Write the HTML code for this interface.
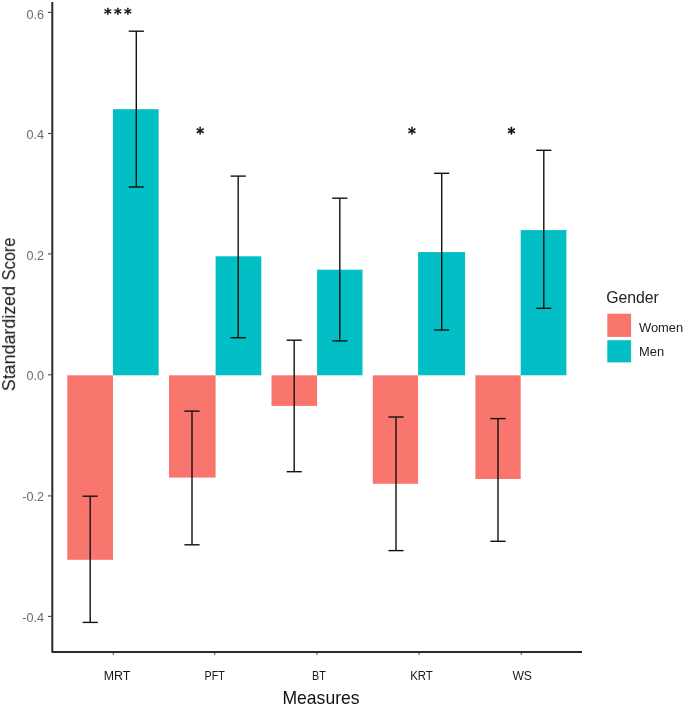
<!DOCTYPE html>
<html lang="en">
<head>
<meta charset="utf-8">
<title>Standardized Score by Measures and Gender</title>
<style>
  html, body { margin: 0; padding: 0; background: #ffffff; }
  body { width: 685px; height: 706px; overflow: hidden; }
  svg { display: block; }
  text { font-family: "Liberation Sans", "DejaVu Sans", sans-serif; }
  .tick { font-size: 12.6px; fill: #6b6b6b; }
  .cat { font-size: 13.4px; fill: #1a1a1a; }
  .title { font-size: 17.8px; fill: #111111; }
  .leg { font-size: 12.9px; fill: #222222; }
  .legt { font-size: 15.8px; fill: #222222; }
  .star text { font-family: "DejaVu Sans", "Liberation Sans", sans-serif; font-weight: bold; font-size: 15px; fill: #111111; stroke: #111111; stroke-width: 0.3px; }
  .w { fill: #F8766D; }
  .m { fill: #00BFC4; }
  .eb line { stroke: #111111; stroke-width: 1.4; }
</style>
</head>
<body>
<svg width="685" height="706" viewBox="0 0 685 706">
  <rect x="0" y="0" width="685" height="706" fill="#ffffff"/>
  <g opacity="0.999">

  <!-- bars -->
  <g id="bars">
    <rect class="w" x="67.3"  y="375.3" width="45.7" height="184.5"/>
    <rect class="m" x="113"   y="109.2" width="45.6" height="266.1"/>
    <rect class="w" x="169"   y="375.3" width="46.6" height="102.3"/>
    <rect class="m" x="215.6" y="256.3" width="45.7" height="119"/>
    <rect class="w" x="271.5" y="375.3" width="45.6" height="30.6"/>
    <rect class="m" x="317.1" y="269.7" width="45.4" height="105.6"/>
    <rect class="w" x="372.8" y="375.3" width="45.3" height="108.5"/>
    <rect class="m" x="418.1" y="252.1" width="47"   height="123.2"/>
    <rect class="w" x="475.4" y="375.3" width="45.3" height="103.7"/>
    <rect class="m" x="520.7" y="230.1" width="45.7" height="145.2"/>
  </g>

  <!-- error bars -->
  <g class="eb" id="errorbars">
    <g><line x1="90.2" y1="496.2" x2="90.2" y2="622.4"/><line x1="82.6" y1="496.2" x2="97.8" y2="496.2"/><line x1="82.6" y1="622.4" x2="97.8" y2="622.4"/></g>
    <g><line x1="136.3" y1="31.2" x2="136.3" y2="187"/><line x1="128.7" y1="31.2" x2="143.9" y2="31.2"/><line x1="128.7" y1="187" x2="143.9" y2="187"/></g>
    <g><line x1="192" y1="411.1" x2="192" y2="544.8"/><line x1="184.4" y1="411.1" x2="199.6" y2="411.1"/><line x1="184.4" y1="544.8" x2="199.6" y2="544.8"/></g>
    <g><line x1="238.2" y1="176.1" x2="238.2" y2="337.7"/><line x1="230.6" y1="176.1" x2="245.8" y2="176.1"/><line x1="230.6" y1="337.7" x2="245.8" y2="337.7"/></g>
    <g><line x1="294.2" y1="340.2" x2="294.2" y2="471.7"/><line x1="286.6" y1="340.2" x2="301.8" y2="340.2"/><line x1="286.6" y1="471.7" x2="301.8" y2="471.7"/></g>
    <g><line x1="339.8" y1="198.2" x2="339.8" y2="340.9"/><line x1="332.2" y1="198.2" x2="347.4" y2="198.2"/><line x1="332.2" y1="340.9" x2="347.4" y2="340.9"/></g>
    <g><line x1="396" y1="417" x2="396" y2="550.6"/><line x1="388.4" y1="417" x2="403.6" y2="417"/><line x1="388.4" y1="550.6" x2="403.6" y2="550.6"/></g>
    <g><line x1="441.7" y1="173.3" x2="441.7" y2="330"/><line x1="434.1" y1="173.3" x2="449.3" y2="173.3"/><line x1="434.1" y1="330" x2="449.3" y2="330"/></g>
    <g><line x1="498" y1="418.6" x2="498" y2="541.3"/><line x1="490.4" y1="418.6" x2="505.6" y2="418.6"/><line x1="490.4" y1="541.3" x2="505.6" y2="541.3"/></g>
    <g><line x1="543.8" y1="150.3" x2="543.8" y2="308.3"/><line x1="536.2" y1="150.3" x2="551.4" y2="150.3"/><line x1="536.2" y1="308.3" x2="551.4" y2="308.3"/></g>
  </g>

  <!-- axes -->
  <g id="axes" stroke="#2b2b2b" fill="none">
    <polyline points="52.3,2 52.3,652 582,652" stroke-width="2" stroke-linejoin="round"/>
    <g stroke-width="1.1" stroke="#444444">
      <line x1="48" y1="12.4" x2="51.5" y2="12.4"/>
      <line x1="48" y1="133.5" x2="51.5" y2="133.5"/>
      <line x1="48" y1="253.9" x2="51.5" y2="253.9"/>
      <line x1="48" y1="374.8" x2="51.5" y2="374.8"/>
      <line x1="48" y1="495.9" x2="51.5" y2="495.9"/>
      <line x1="48" y1="616.4" x2="51.5" y2="616.4"/>
      <line x1="113.3" y1="652.8" x2="113.3" y2="654.7"/>
      <line x1="214.7" y1="652.8" x2="214.7" y2="654.7"/>
      <line x1="317" y1="652.8" x2="317" y2="654.7"/>
      <line x1="419" y1="652.8" x2="419" y2="654.7"/>
      <line x1="521.2" y1="652.8" x2="521.2" y2="654.7"/>
    </g>
  </g>

  <!-- y tick labels -->
  <g class="tick" text-anchor="end">
    <text x="44" y="18.8">0.6</text>
    <text x="44" y="139">0.4</text>
    <text x="44" y="259.5">0.2</text>
    <text x="44" y="379.7">0.0</text>
    <text x="44" y="501.1">-0.2</text>
    <text x="44" y="621.9">-0.4</text>
  </g>

  <!-- x tick labels -->
  <g class="cat" text-anchor="middle">
    <text x="117.1" y="679.6" textLength="26.6" lengthAdjust="spacingAndGlyphs">MRT</text>
    <text x="214.7" y="679.6" textLength="20.2" lengthAdjust="spacingAndGlyphs">PFT</text>
    <text x="318.9" y="679.6" textLength="13.8" lengthAdjust="spacingAndGlyphs">BT</text>
    <text x="421.5" y="679.6" textLength="22.6" lengthAdjust="spacingAndGlyphs">KRT</text>
    <text x="522.2" y="679.6" textLength="19.6" lengthAdjust="spacingAndGlyphs">WS</text>
  </g>

  <!-- axis titles -->
  <text class="title" x="321" y="704.3" text-anchor="middle" textLength="77" lengthAdjust="spacingAndGlyphs">Measures</text>
  <text class="title" transform="translate(15.1 391.2) rotate(-90)"><tspan textLength="105.2" lengthAdjust="spacingAndGlyphs">Standardized</tspan> <tspan dx="0.6" textLength="43" lengthAdjust="spacingAndGlyphs">Score</tspan></text>

  <!-- significance stars -->
  <g class="star">
    <text x="104.1" y="18" letter-spacing="2.3" style="font-size:14.6px">***</text>
    <text x="196.2" y="139.3">*</text>
    <text x="407.9" y="139.3">*</text>
    <text x="507.5" y="139.3">*</text>
  </g>

  <!-- legend -->
  <g id="legend">
    <text class="legt" x="606.2" y="303.3">Gender</text>
    <rect class="w" x="607.3" y="313.7" width="23.8" height="23.2"/>
    <rect class="m" x="607.3" y="340.2" width="23.8" height="22.2"/>
    <text class="leg" x="639" y="331.5">Women</text>
    <text class="leg" x="639" y="356.3">Men</text>
  </g>
  </g>
</svg>
</body>
</html>
